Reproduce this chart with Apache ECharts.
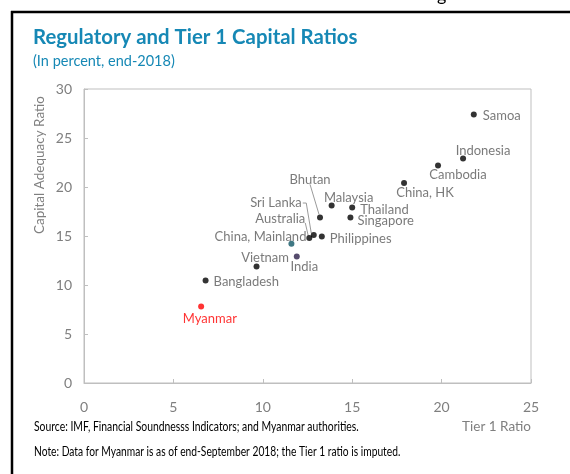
<!DOCTYPE html>
<html>
<head>
<meta charset="utf-8">
<script src="https://cdn.jsdelivr.net/npm/echarts@6/dist/echarts.min.js"></script>
<style>html,body{margin:0;padding:0;background:#fff;}#c{width:570px;height:474px;}</style>
</head>
<body>
<div id="c"></div>
<script>
// ---- data ----
const countries = ["Samoa","Indonesia","Cambodia","China, HK","Bhutan","Malaysia","Thailand","Singapore","Philippines","Sri Lanka","Australia","China, Mainland","India","Vietnam","Bangladesh","Myanmar"];
const tier1Ratio = [21.8, 21.2, 19.8, 17.9, 13.2, 13.85, 15.0, 14.9, 13.3, 12.85, 12.6, 11.6, 11.9, 9.65, 6.8, 6.55];
const capitalAdequacyRatio = [27.4, 22.9, 22.2, 20.4, 16.9, 18.1, 17.9, 16.9, 14.95, 15.1, 14.8, 14.2, 12.9, 11.9, 10.45, 7.8];
const xTicks = [0, 5, 10, 15, 20, 25];
const yTicks = [0, 5, 10, 15, 20, 25, 30];

// ---- styling (label placement, colours) ----
const labelStyle = {
  "Samoa": {off:[9,1], align:"left"},
  "Indonesia": {off:[20,-8], align:"center"},
  "Cambodia": {off:[20,9], align:"center"},
  "China, HK": {off:[21,10], align:"center"},
  "Bhutan": {off:[-10,-38], align:"center"},
  "Malaysia": {off:[17,-8], align:"center"},
  "Thailand": {off:[8,2], align:"left"},
  "Singapore": {off:[7,3], align:"left"},
  "Philippines": {off:[8,2], align:"left"},
  "Sri Lanka": {off:[-12,-32], align:"right"},
  "Australia": {off:[-4,-19], align:"right"},
  "China, Mainland": {off:[15,-7], align:"right"},
  "India": {off:[7.5,10.6], align:"center"},
  "Vietnam": {off:[8.5,-8.7], align:"center"},
  "Bangladesh": {off:[8,1.6], align:"left"},
  "Myanmar": {off:[8.7,12.6], align:"center"}
};
const dotColor = {"China, Mainland":"#0f5665","India":"#2c1f48","Myanmar":"#ff0000"};
const leaders = {
  "Bhutan": [[-10,-33],[-1,-3]],
  "Sri Lanka": [[-11,-32],[-7.5,-32],[-2.5,-2]],
  "Australia": [[-4,-15],[-1,-2]]
};
const FONT = "Lato";
const LABEL_GRAY = "#595959";
const AXIS_GRAY = "#7f7f7f";
const LINE_GRAY = "#bfbfbf";
const TITLE_BLUE = "#1688b5";

const chart = echarts.init(document.getElementById('c'), null, {renderer:'canvas'});

const data = countries.map((n, i) => {
  const ls = labelStyle[n];
  const col = dotColor[n] || "#000000";
  return {
    name: n,
    value: [tier1Ratio[i], capitalAdequacyRatio[i]],
    itemStyle: {color: col},
    label: {
      show: true, formatter: n, position: "inside", offset: ls.off,
      align: ls.align, verticalAlign: "middle",
      color: n === "Myanmar" ? "#ff0000" : LABEL_GRAY,
      fontFamily: FONT, fontSize: 13
    }
  };
});

const option = {
  animation: false,
  backgroundColor: "#ffffff",
  grid: {left: 84, right: 39, top: 89, bottom: 91, show: true, borderColor: LINE_GRAY, borderWidth: 1},
  xAxis: {
    type: "value", min: xTicks[0], max: xTicks[xTicks.length-1], interval: 5,
    axisLine: {show: true, lineStyle: {color: LINE_GRAY}},
    axisTick: {show: true, inside: true, length: 4, lineStyle: {color: LINE_GRAY}},
    splitLine: {show: false},
    axisLabel: {color: AXIS_GRAY, fontFamily: FONT, fontSize: 14, margin: 17}
  },
  yAxis: {
    type: "value", min: yTicks[0], max: yTicks[yTicks.length-1], interval: 5,
    axisLine: {show: true, lineStyle: {color: LINE_GRAY}},
    axisTick: {show: true, inside: true, length: 4, lineStyle: {color: LINE_GRAY}},
    splitLine: {show: false},
    axisLabel: {color: AXIS_GRAY, fontFamily: FONT, fontSize: 14, margin: 12}
  },
  series: [{
    type: "scatter",
    symbol: "circle",
    symbolSize: 6,
    data: data,
    z: 3
  }]
};
chart.setOption(option);

// static graphics: frame, titles, notes, axis names, leader lines
const g = [
  {type:"line", shape:{x1:11, y1:12, x2:570, y2:12}, style:{stroke:"#000", lineWidth:2.5}, z:10},
  {type:"line", shape:{x1:12, y1:11, x2:12, y2:474}, style:{stroke:"#000", lineWidth:2.5}, z:10},
  {type:"text", x:437, y:-14, style:{text:"g", fill:"#000", font:"18px " + FONT}},
  {type:"text", x:33, y:37, scaleX:0.97, style:{text:"Regulatory and Tier 1 Capital Ratios", fill:TITLE_BLUE, font:"bold 21px " + FONT, verticalAlign:"middle"}},
  {type:"text", x:33, y:61, style:{text:"(In percent, end-2018)", fill:TITLE_BLUE, font:"14.5px " + FONT, verticalAlign:"middle"}},
  {type:"text", x:40, y:165, rotation:Math.PI/2, style:{text:"Capital Adequacy Ratio", fill:AXIS_GRAY, font:"13.5px " + FONT, align:"center", verticalAlign:"middle"}},
  {type:"text", x:531, y:427, style:{text:"Tier 1 Ratio", fill:AXIS_GRAY, font:"13.5px " + FONT, align:"right", verticalAlign:"middle"}},
  {type:"text", x:34, y:427, scaleX:0.83, style:{text:"Source: IMF, Financial Soundnesss Indicators; and Myanmar authorities.", fill:"#000", font:"12.5px " + FONT, verticalAlign:"middle"}},
  {type:"text", x:34, y:452, scaleX:0.82, style:{text:"Note: Data for Myanmar is as of end-September 2018; the Tier 1 ratio is imputed.", fill:"#000", font:"12.5px " + FONT, verticalAlign:"middle"}}
];
Object.keys(leaders).forEach(n => {
  const i = countries.indexOf(n);
  const p = chart.convertToPixel({seriesIndex:0}, [tier1Ratio[i], capitalAdequacyRatio[i]]);
  g.push({type:"polyline", shape:{points: leaders[n].map(d => [p[0]+d[0], p[1]+d[1]])}, style:{stroke:"#808080", lineWidth:0.8, fill:null}, z:2});
});
chart.setOption({graphic: g});
</script>
</body>
</html>
